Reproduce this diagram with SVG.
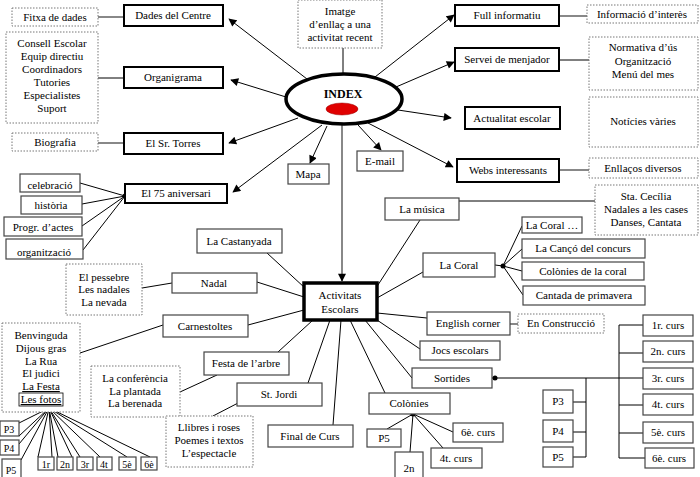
<svg xmlns="http://www.w3.org/2000/svg" width="700" height="477" viewBox="0 0 700 477">
<style>
text{font-family:"Liberation Serif","Times New Roman",serif;font-size:11px;fill:#000;text-anchor:middle}
.b2{fill:#fff;stroke:#000;stroke-width:2}
.b1{fill:#fff;stroke:#444;stroke-width:1.2}
.bd{fill:#fff;stroke:#777;stroke-width:1;stroke-dasharray:1.5 1.5}
.c{stroke:#000;stroke-width:1;fill:none}
.cg{stroke:#888;stroke-width:2;fill:none}
.ca{stroke:#000;stroke-width:1;fill:none;marker-end:url(#ah)}
.sm{font-size:10px}
</style>
<defs>
<marker id="ah" viewBox="0 0 10 10" refX="9" refY="5" markerWidth="9" markerHeight="8" markerUnits="userSpaceOnUse" orient="auto">
<path d="M0,0 L10,5 L0,10 z" fill="#000"/>
</marker>
</defs>
<rect width="700" height="477" fill="#fff"/>

<g id="connectors">
<line class="c" x1="343" y1="48" x2="343" y2="75"/>
<line class="ca" x1="307" y1="79" x2="229" y2="19"/>
<line class="ca" x1="286" y1="97" x2="231" y2="80"/>
<line class="ca" x1="298" y1="118" x2="229" y2="143"/>
<line class="ca" x1="322" y1="125" x2="233" y2="192"/>
<line class="ca" x1="327" y1="126" x2="310" y2="163"/>
<line class="ca" x1="358" y1="125" x2="381" y2="150"/>
<line class="ca" x1="375" y1="77" x2="454" y2="15"/>
<line class="ca" x1="396" y1="87" x2="454" y2="62"/>
<line class="ca" x1="398" y1="110" x2="451" y2="118"/>
<line class="ca" x1="368" y1="123" x2="453" y2="167"/>
<line x1="342" y1="124" x2="342" y2="281" stroke="#888" stroke-width="2" marker-end="url(#ah)"/>
<line class="cg" x1="98" y1="17" x2="124" y2="17"/>
<line class="c" x1="98" y1="78" x2="124" y2="78"/>
<line class="cg" x1="98" y1="143" x2="124" y2="143"/>
<line class="c" x1="125" y1="196" x2="80" y2="183"/>
<line class="c" x1="125" y1="196" x2="82" y2="204"/>
<line class="c" x1="125" y1="196" x2="82" y2="226"/>
<line class="c" x1="125" y1="196" x2="83" y2="250"/>
<line class="cg" x1="559" y1="16" x2="587" y2="16"/>
<line class="c" x1="559" y1="60" x2="589" y2="60"/>
<line class="cg" x1="559" y1="170" x2="589" y2="170"/>
<line class="c" x1="459" y1="201" x2="595" y2="201" stroke="#555"/>
<line class="c" x1="376" y1="288" x2="420" y2="220"/>
<line class="c" x1="377" y1="298" x2="423" y2="272"/>
<line class="c" x1="495" y1="265" x2="503" y2="266"/>
<line class="c" x1="503" y1="266" x2="522" y2="226"/>
<line class="c" x1="503" y1="266" x2="522" y2="249"/>
<line class="c" x1="503" y1="266" x2="522" y2="271"/>
<line class="c" x1="503" y1="266" x2="523" y2="295"/>
<line class="c" x1="377" y1="313" x2="427" y2="318"/>
<line class="c" x1="377" y1="320" x2="420" y2="349"/>
<line class="c" x1="365" y1="320" x2="412" y2="378"/>
<line class="c" x1="350" y1="320" x2="385" y2="393"/>
<line class="c" x1="341" y1="320" x2="333" y2="425"/>
<line class="c" x1="330" y1="320" x2="308" y2="383"/>
<line class="c" x1="313" y1="320" x2="278" y2="352"/>
<line class="c" x1="304" y1="310" x2="248" y2="325"/>
<line class="c" x1="304" y1="297" x2="257" y2="282"/>
<line class="c" x1="305" y1="288" x2="267" y2="253"/>
<line class="c" x1="172" y1="283" x2="142" y2="288" stroke="#555"/>
<line class="c" x1="163" y1="325" x2="80" y2="353"/>
<line class="c" x1="217" y1="375" x2="180" y2="392"/>
<line class="c" x1="240" y1="402" x2="213" y2="416"/>
<line class="cg" x1="510" y1="324" x2="518" y2="324"/>
<line class="c" x1="492" y1="378" x2="643" y2="378"/>
<line class="c" x1="586" y1="378" x2="586" y2="457"/>
<line class="c" x1="573" y1="402" x2="586" y2="402"/>
<line class="c" x1="573" y1="432" x2="586" y2="432"/>
<line class="c" x1="573" y1="457" x2="586" y2="457"/>
<line class="c" x1="619" y1="325" x2="619" y2="458"/>
<line class="c" x1="619" y1="325" x2="643" y2="325"/>
<line class="c" x1="619" y1="353" x2="643" y2="353"/>
<line class="c" x1="619" y1="405" x2="643" y2="405"/>
<line class="c" x1="619" y1="433" x2="643" y2="433"/>
<line class="c" x1="619" y1="458" x2="645" y2="458"/>
<line class="c" x1="413" y1="414" x2="387" y2="429"/>
<line class="c" x1="413" y1="414" x2="410" y2="452"/>
<line class="c" x1="413" y1="414" x2="443" y2="448"/>
<line class="c" x1="413" y1="414" x2="453" y2="432"/>
<line class="c" x1="49" y1="408" x2="19" y2="423"/>
<line class="c" x1="49" y1="408" x2="19" y2="436"/>
<line class="c" x1="49" y1="408" x2="19" y2="444"/>
<line class="c" x1="49" y1="408" x2="21" y2="460"/>
<line class="c" x1="49" y1="408" x2="38" y2="457"/>
<line class="c" x1="49" y1="408" x2="52" y2="457"/>
<line class="c" x1="49" y1="408" x2="58" y2="457"/>
<line class="c" x1="49" y1="408" x2="72" y2="457"/>
<line class="c" x1="49" y1="408" x2="80" y2="457"/>
<line class="c" x1="49" y1="408" x2="100" y2="457"/>
<line class="c" x1="49" y1="408" x2="127" y2="457"/>
<line class="c" x1="49" y1="408" x2="150" y2="457"/>
<circle cx="125" cy="196" r="2.5" fill="#000"/>
<circle cx="503" cy="266" r="2.5" fill="#000"/>
<circle cx="495" cy="378" r="2.5" fill="#000"/>
<circle cx="413" cy="414" r="2.5" fill="#000"/>
<circle cx="49" cy="408" r="2.5" fill="#000"/>
</g>

<g id="index">
<ellipse cx="344" cy="99" rx="58" ry="25" fill="#fff" stroke="#000" stroke-width="3.5"/>
<text x="343" y="98" style="font-weight:bold;font-size:12px">INDEX</text>
<ellipse cx="342" cy="109" rx="16" ry="6" fill="#e00000" stroke="#900" stroke-width="0.5"/>
</g>

<g id="imatge"><rect class="bd" x="298" y="0" width="84" height="48"/><text x="340" y="15">Imatge</text><text x="340" y="28">d’enllaç  a una</text><text x="340" y="41">activitat recent</text></g>

<g id="fitxa"><rect class="bd" x="12" y="8" width="86" height="18"/><text x="55" y="21">Fitxa de dades</text></g>
<g id="dades"><rect class="b2" x="124" y="5" width="99" height="21"/><text x="173" y="19">Dades del Centre</text></g>
<g id="consell"><rect class="bd" x="6" y="32" width="92" height="91"/><text x="52" y="47">Consell Escolar</text><text x="52" y="60">Equip directiu</text><text x="52" y="73">Coordinadors</text><text x="52" y="86">Tutories</text><text x="52" y="99">Especialistes</text><text x="52" y="112">Suport</text></g>
<g id="organigrama"><rect class="b2" x="124" y="67" width="99" height="21"/><text x="173" y="81">Organigrama</text></g>
<g id="biografia"><rect class="bd" x="12" y="133" width="86" height="18"/><text x="55" y="146">Biografia</text></g>
<g id="torres"><rect class="b2" x="124" y="133" width="99" height="21"/><text x="173" y="147">El Sr. Torres</text></g>
<g id="aniversari"><rect class="b2" x="125" y="184" width="102" height="19"/><text x="176" y="197">El 75 aniversari</text></g>
<g id="celebracio"><rect class="b1" x="20" y="174" width="60" height="18"/><text x="50" y="189">celebració</text></g>
<g id="historia"><rect class="b1" x="21" y="196" width="61" height="18"/><text x="51" y="209">història</text></g>
<g id="progr"><rect class="b1" x="4" y="217" width="78" height="19"/><text x="43" y="231">Progr. d’actes</text></g>
<g id="organitzacio"><rect class="b1" x="6" y="239" width="77" height="20"/><text x="44" y="256">organització</text></g>

<g id="mapa"><rect class="b1" x="288" y="164" width="41" height="20"/><text x="308" y="178">Mapa</text></g>
<g id="email"><rect class="b1" x="357" y="151" width="46" height="20"/><text x="380" y="165">E-mail</text></g>

<g id="full"><rect class="b2" x="455" y="5" width="104" height="21"/><text x="507" y="19">Full informatiu</text></g>
<g id="informacio"><rect class="bd" x="587" y="5" width="111" height="18"/><text x="642" y="18">Informació d’interès</text></g>
<g id="servei"><rect class="b2" x="455" y="48" width="104" height="23"/><text x="507" y="63">Servei de menjador</text></g>
<g id="normativa"><rect class="bd" x="589" y="37" width="109" height="53"/><text x="643" y="51">Normativa d’ús</text><text x="643" y="65">Organització</text><text x="643" y="78">Menú del mes</text></g>
<g id="actualitat"><rect class="b2" x="465" y="107" width="95" height="22"/><text x="512" y="122">Actualitat escolar</text></g>
<g id="noticies"><rect class="bd" x="589" y="97" width="109" height="50"/><text x="643" y="125">Notícies vàries</text></g>
<g id="webs"><rect class="b2" x="457" y="159" width="102" height="23"/><text x="508" y="174">Webs interessants</text></g>
<g id="enllacos"><rect class="bd" x="589" y="158" width="109" height="20"/><text x="643" y="172">Enllaços diversos</text></g>

<g id="activitats"><rect x="304" y="283" width="73" height="37" fill="#fff" stroke="#000" stroke-width="3.5"/><text x="340" y="299">Activitats</text><text x="340" y="313">Escolars</text></g>

<g id="castanyada"><rect class="b1" x="197" y="229" width="85" height="24"/><text x="239" y="245">La Castanyada</text></g>
<g id="nadal"><rect class="b1" x="172" y="273" width="85" height="20"/><text x="214" y="287">Nadal</text></g>
<g id="pessebre"><rect class="bd" x="66" y="264" width="76" height="51"/><text x="104" y="281">El pessebre</text><text x="104" y="293">Les nadales</text><text x="104" y="306">La nevada</text></g>
<g id="carnestoltes"><rect class="b1" x="163" y="315" width="85" height="22"/><text x="205" y="330">Carnestoltes</text></g>
<g id="benvinguda"><rect class="bd" x="2" y="323" width="78" height="89"/><text x="41" y="339">Benvinguda</text><text x="41" y="352">Dijous gras</text><text x="41" y="365">La Rua</text><text x="41" y="377">El judici</text><text x="41" y="390" text-decoration="underline">La Festa</text><text x="41" y="403" text-decoration="underline">Les fotos</text><rect x="19" y="393" width="44" height="13" fill="none" stroke="#000" stroke-width="0.8"/></g>
<g id="festa"><rect class="b1" x="204" y="352" width="85" height="23"/><text x="246" y="367">Festa de l’arbre</text></g>
<g id="conferencia"><rect class="bd" x="91" y="366" width="89" height="51"/><text x="135" y="382">La conferència</text><text x="135" y="395">La plantada</text><text x="135" y="407">La berenada</text></g>
<g id="jordi"><rect class="b1" x="237" y="383" width="85" height="23"/><text x="279" y="398">St. Jordi</text></g>
<g id="llibres"><rect class="bd" x="166" y="416" width="87" height="51"/><text x="209" y="431">Llibres i roses</text><text x="209" y="444">Poemes i textos</text><text x="209" y="457">L’espectacle</text></g>
<g id="final"><rect class="b1" x="268" y="425" width="85" height="22"/><text x="310" y="440">Final de Curs</text></g>

<g id="lp3"><rect class="b1" x="0" y="421" width="19" height="15"/><text class="sm" x="9" y="433">P3</text></g>
<g id="lp4"><rect class="b1" x="0" y="440" width="19" height="15"/><text class="sm" x="9" y="452">P4</text></g>
<g id="lp5"><rect class="b1" x="2" y="459" width="19" height="20"/><text class="sm" x="11" y="474">P5</text></g>
<g id="l1r"><rect class="b1" x="38" y="457" width="16" height="13"/><text class="sm" x="46" y="468">1r</text></g>
<g id="l2n"><rect class="b1" x="57" y="457" width="16" height="13"/><text class="sm" x="65" y="468">2n</text></g>
<g id="l3r"><rect class="b1" x="77" y="457" width="16" height="13"/><text class="sm" x="85" y="468">3r</text></g>
<g id="l4t"><rect class="b1" x="97" y="457" width="15" height="13"/><text class="sm" x="104" y="468">4t</text></g>
<g id="l5e"><rect class="b1" x="119" y="457" width="17" height="13"/><text class="sm" x="127" y="468">5è</text></g>
<g id="l6e"><rect class="b1" x="141" y="457" width="16" height="13"/><text class="sm" x="149" y="468">6è</text></g>

<g id="musica"><rect class="b1" x="385" y="198" width="74" height="22"/><text x="422" y="213">La música</text></g>
<g id="cecilia"><rect class="bd" x="595" y="185" width="103" height="50"/><text x="646" y="200">Sta. Cecília</text><text x="646" y="213">Nadales a les cases</text><text x="646" y="226">Danses, Cantata</text></g>
<g id="coral"><rect class="b1" x="423" y="253" width="72" height="24"/><text x="459" y="269">La Coral</text></g>
<g id="coral2"><rect class="b1" x="522" y="217" width="60" height="16"/><text x="552" y="229">La Coral …</text></g>
<g id="canco"><rect class="b1" x="522" y="239" width="123" height="19"/><text x="583" y="252">La Cançó del concurs</text></g>
<g id="colcoral"><rect class="b1" x="522" y="262" width="122" height="18"/><text x="583" y="275">Colònies de la coral</text></g>
<g id="cantada"><rect class="b1" x="523" y="286" width="122" height="19"/><text x="584" y="299">Cantada de primavera</text></g>
<g id="english"><rect class="b1" x="427" y="312" width="83" height="23"/><text x="468" y="327">English corner</text></g>
<g id="construccio"><rect class="bd" x="518" y="314" width="86" height="19"/><text x="561" y="327">En Construcció</text></g>
<g id="jocs"><rect class="b1" x="420" y="341" width="80" height="19"/><text x="460" y="354">Jocs escolars</text></g>
<g id="sortides"><rect class="b1" x="412" y="368" width="80" height="20"/><text x="452" y="382">Sortides</text></g>
<g id="colonies"><rect class="b1" x="369" y="393" width="81" height="21"/><text x="409" y="407">Colònies</text></g>
<g id="cp5"><rect class="b1" x="367" y="429" width="34" height="18"/><text x="384" y="442">P5</text></g>
<g id="c2n"><rect class="b1" x="395" y="452" width="28" height="30"/><text x="409" y="472">2n</text></g>
<g id="c4t"><rect class="b1" x="431" y="448" width="51" height="20"/><text x="456" y="462">4t. curs</text></g>
<g id="c6e"><rect class="b1" x="453" y="423" width="50" height="19"/><text x="478" y="436">6è. curs</text></g>

<g id="sp3"><rect class="b1" x="543" y="390" width="30" height="23"/><text x="558" y="405">P3</text></g>
<g id="sp4"><rect class="b1" x="543" y="420" width="30" height="22"/><text x="558" y="435">P4</text></g>
<g id="sp5"><rect class="b1" x="543" y="447" width="30" height="20"/><text x="558" y="461">P5</text></g>
<g id="s1"><rect class="b1" x="643" y="315" width="50" height="21"/><text x="668" y="329">1r. curs</text></g>
<g id="s2"><rect class="b1" x="643" y="341" width="50" height="21"/><text x="668" y="355">2n. curs</text></g>
<g id="s3"><rect class="b1" x="643" y="368" width="50" height="21"/><text x="668" y="382">3r. curs</text></g>
<g id="s4"><rect class="b1" x="643" y="394" width="50" height="21"/><text x="668" y="408">4t. curs</text></g>
<g id="s5"><rect class="b1" x="643" y="422" width="50" height="21"/><text x="668" y="436">5è. curs</text></g>
<g id="s6"><rect class="b1" x="645" y="448" width="49" height="20"/><text x="669" y="462">6è. curs</text></g>
</svg>
